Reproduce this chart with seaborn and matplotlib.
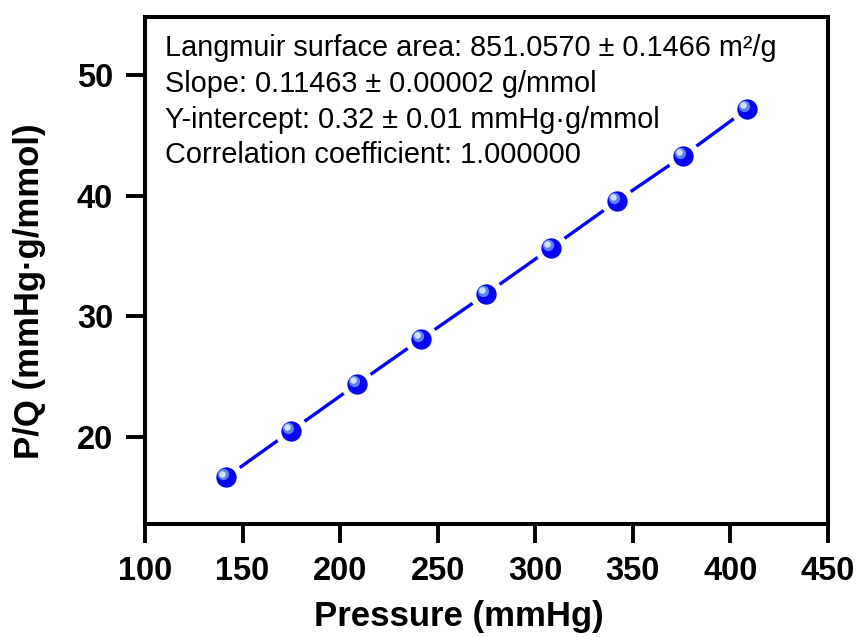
import matplotlib
matplotlib.use("Agg")
import matplotlib.pyplot as plt
import matplotlib.transforms as mtransforms
import seaborn as sns
import pandas as pd

pressure = [141.5, 174.8, 208.6, 241.5, 274.8, 308.1, 341.9, 375.7, 408.6]
pq = [16.62, 20.47, 24.37, 28.11, 31.85, 35.66, 39.56, 43.29, 47.2]
x_ticks = [100, 150, 200, 250, 300, 350, 400, 450]
y_ticks = [20, 30, 40, 50]
info_lines = [
    "Langmuir surface area: 851.0570 \u00b1 0.1466 m\u00b2/g",
    "Slope: 0.11463 \u00b1 0.00002 g/mmol",
    "Y-intercept: 0.32 \u00b1 0.01 mmHg\u00b7g/mmol",
    "Correlation coefficient: 1.000000",
]

df = pd.DataFrame({"Pressure": pressure, "PQ": pq})

sns.set_style("white")
plt.rcParams["font.family"] = ["Liberation Sans", "DejaVu Sans"]
plt.rcParams["text.color"] = "black"
plt.rcParams["axes.labelcolor"] = "black"
plt.rcParams["xtick.color"] = "black"
plt.rcParams["ytick.color"] = "black"

fig = plt.figure(figsize=(8.58, 6.37), dpi=100)
ax = fig.add_axes([0.1690, 0.1774, 0.7960, 0.7959])

sns.lineplot(data=df, x="Pressure", y="PQ", ax=ax, color="#0000ff", linewidth=2.4,
             zorder=2)
sns.scatterplot(data=df, x="Pressure", y="PQ", ax=ax, color="#0606f2", s=370,
                edgecolor="white", linewidth=4.6, zorder=3)
# glossy highlight on spheres
off1 = mtransforms.ScaledTranslation(-2.4 / 72, 2.4 / 72, fig.dpi_scale_trans)
ax.scatter(df["Pressure"], df["PQ"], s=66, color="#5a82f5", zorder=4,
           linewidths=0, transform=ax.transData + off1)
off2 = mtransforms.ScaledTranslation(-2.8 / 72, 2.8 / 72, fig.dpi_scale_trans)
ax.scatter(df["Pressure"], df["PQ"], s=22, color="#d0e2f4", zorder=5,
           linewidths=0, transform=ax.transData + off2)

ax.set_xlim(100, 450)
ax.set_ylim(12.76, 54.82)
ax.set_xticks(x_ticks)
ax.set_yticks(y_ticks)
ax.set_xticklabels([str(v) for v in x_ticks], fontsize=23.5, fontweight="bold")
ax.set_yticklabels([str(v) for v in y_ticks], fontsize=23.5, fontweight="bold")
ax.tick_params(axis="both", direction="out", length=14, width=2.8, pad=9,
               bottom=True, left=True, colors="black")
for sp in ax.spines.values():
    sp.set_linewidth(2.9)
    sp.set_color("black")
    sp.set_visible(True)

ax.set_xlabel("Pressure (mmHg)", fontsize=25, fontweight="bold")
ax.set_ylabel("P/Q (mmHg\u00b7g/mmol)", fontsize=25, fontweight="bold")
ax.xaxis.set_label_coords(0.4597, -0.150)
ax.yaxis.set_label_coords(-0.145, 0.459)

ax.text(0.029, 0.966, "\n".join(info_lines), transform=ax.transAxes,
        fontsize=20.8, va="top", ha="left", linespacing=1.35, color="black")

fig.savefig("out.png", dpi=100)
